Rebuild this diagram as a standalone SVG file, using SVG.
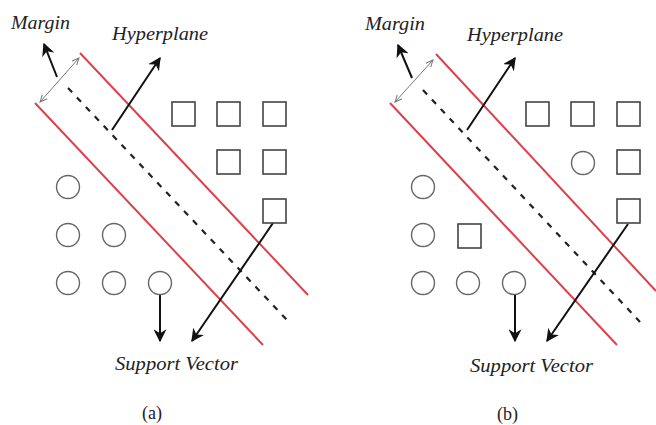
<svg xmlns="http://www.w3.org/2000/svg" width="656" height="425" viewBox="0 0 656 425">
  <style>
    .lbl { font-family: "Liberation Serif", "DejaVu Serif", serif; font-style: italic; font-size: 18px; fill: #222; }
    .cap { font-family: "Liberation Serif", "DejaVu Serif", serif; font-size: 18px; fill: #222; }
    .sq { fill: none; stroke: #444; stroke-width: 1.6; }
    .ci { fill: none; stroke: #666; stroke-width: 1.4; }
    .red { stroke: #d9434c; stroke-width: 2; fill: none; }
    .dash { stroke: #222; stroke-width: 2.2; stroke-dasharray: 6 7; fill: none; }
    .arr { stroke: #111; stroke-width: 2; fill: none; marker-end: url(#head); }
    .mg { stroke: #777; stroke-width: 1; fill: none; marker-start: url(#thin); marker-end: url(#thin); }
  </style>
  <defs>
    <marker id="head" viewBox="0 0 10 10" refX="9" refY="5" markerWidth="6.5" markerHeight="6.5" orient="auto" markerUnits="strokeWidth">
      <path d="M0,0 L10,5 L0,10 L3,5 z" fill="#111"/>
    </marker>
    <marker id="thin" viewBox="0 0 10 10" refX="9" refY="5" markerWidth="8" markerHeight="8" orient="auto-start-reverse" markerUnits="strokeWidth">
      <path d="M0,1 L9,5 L0,9" fill="none" stroke="#777" stroke-width="1.2"/>
    </marker>
  </defs>

  <rect width="656" height="425" fill="#fff"/>

  <!-- Panel (a) -->
  <g id="panel-a">
    <g id="a-connectors">
      <line class="red" x1="80" y1="53" x2="308" y2="295"/>
      <line class="red" x1="35" y1="103" x2="263" y2="345"/>
      <line class="dash" x1="68" y1="88" x2="287" y2="320"/>
      <line class="mg" x1="40" y1="102" x2="79" y2="58"/>
      <line class="arr" x1="57" y1="77" x2="44" y2="44"/>
      <line class="arr" x1="112" y1="130" x2="160" y2="58"/>
      <line class="arr" x1="160" y1="295" x2="160" y2="341"/>
      <line class="arr" x1="273" y1="223" x2="192" y2="341"/>
    </g>
    <g id="a-squares">
      <rect class="sq" x="172" y="102" width="23" height="24"/>
      <rect class="sq" x="217" y="102" width="23" height="24"/>
      <rect class="sq" x="263" y="102" width="23" height="24"/>
      <rect class="sq" x="217" y="150" width="23" height="24"/>
      <rect class="sq" x="263" y="150" width="23" height="24"/>
      <rect class="sq" x="263" y="199" width="23" height="24"/>
    </g>
    <g id="a-circles">
      <circle class="ci" cx="68" cy="187" r="11.5"/>
      <circle class="ci" cx="68" cy="235" r="11.5"/>
      <circle class="ci" cx="114" cy="235" r="11.5"/>
      <circle class="ci" cx="68" cy="283" r="11.5"/>
      <circle class="ci" cx="114" cy="283" r="11.5"/>
      <circle class="ci" cx="160" cy="283" r="11.5"/>
    </g>
    <g id="a-labels">
      <text class="lbl" x="11" y="29" textLength="59" lengthAdjust="spacingAndGlyphs">Margin</text>
      <text class="lbl" x="112" y="40" textLength="96" lengthAdjust="spacingAndGlyphs">Hyperplane</text>
      <text class="lbl" x="115" y="370" textLength="123" lengthAdjust="spacingAndGlyphs">Support Vector</text>
      <text class="cap" x="142" y="419">(a)</text>
    </g>
  </g>

  <!-- Panel (b) -->
  <g id="panel-b">
    <g id="b-connectors">
      <line class="red" x1="436" y1="54" x2="656" y2="291"/>
      <line class="red" x1="390" y1="103" x2="617" y2="345"/>
      <line class="dash" x1="423" y1="90" x2="640" y2="322"/>
      <line class="mg" x1="395" y1="102" x2="433" y2="60"/>
      <line class="arr" x1="412" y1="78" x2="398" y2="45"/>
      <line class="arr" x1="467" y1="130" x2="515" y2="58"/>
      <line class="arr" x1="515" y1="295" x2="515" y2="341"/>
      <line class="arr" x1="628" y1="224" x2="547" y2="341"/>
    </g>
    <g id="b-squares">
      <rect class="sq" x="526" y="102" width="23" height="24"/>
      <rect class="sq" x="571" y="102" width="23" height="24"/>
      <rect class="sq" x="617" y="102" width="23" height="24"/>
      <rect class="sq" x="617" y="150" width="23" height="24"/>
      <rect class="sq" x="617" y="199" width="23" height="24"/>
      <rect class="sq" x="458" y="224" width="23" height="24"/>
    </g>
    <g id="b-circles">
      <circle class="ci" cx="583" cy="163" r="11.5"/>
      <circle class="ci" cx="423" cy="187" r="11.5"/>
      <circle class="ci" cx="423" cy="235" r="11.5"/>
      <circle class="ci" cx="423" cy="283" r="11.5"/>
      <circle class="ci" cx="468" cy="283" r="11.5"/>
      <circle class="ci" cx="514" cy="283" r="11.5"/>
    </g>
    <g id="b-labels">
      <text class="lbl" x="365" y="30" textLength="60" lengthAdjust="spacingAndGlyphs">Margin</text>
      <text class="lbl" x="467" y="41" textLength="96" lengthAdjust="spacingAndGlyphs">Hyperplane</text>
      <text class="lbl" x="470" y="372" textLength="123" lengthAdjust="spacingAndGlyphs">Support Vector</text>
      <text class="cap" x="497" y="420">(b)</text>
    </g>
  </g>
</svg>
